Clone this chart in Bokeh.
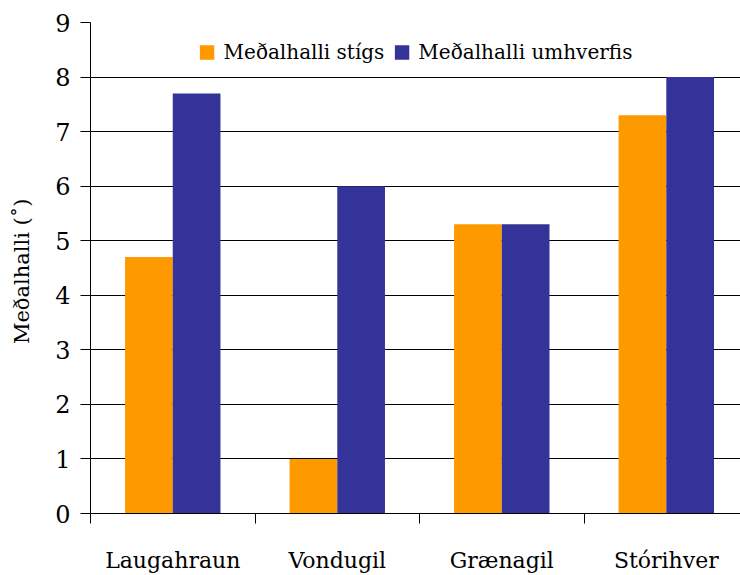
from bokeh.plotting import figure
from bokeh.models import (ColumnDataSource, Range1d, FixedTicker, Legend, LegendItem)
from bokeh.transform import dodge
from bokeh.embed import file_html
from bokeh.resources import INLINE

categories = ["Laugahraun", "Vondugil", "Grænagil", "Stórihver"]
stigs = [4.7, 1.0, 5.3, 7.3]
umhverfis = [7.7, 6.0, 5.3, 8.0]
series_names = ["Meðalhalli stígs", "Meðalhalli umhverfis"]
y_ticks = [0, 1, 2, 3, 4, 5, 6, 7, 8, 9]

FONT = "DejaVu Serif"
ORANGE = "#FF9900"
BLUE = "#333399"

centers = [i + 0.5 for i in range(len(categories))]
src = ColumnDataSource(dict(x=centers, stigs=stigs, umhverfis=umhverfis))

p = figure(width=740, height=575, output_backend="svg", toolbar_location=None,
           x_range=Range1d(0, 3.951), y_range=Range1d(0, 9),
           min_border_left=90, min_border_right=0, min_border_top=22,
           min_border_bottom=61)
p.outline_line_color = None
p.background_fill_color = "white"
p.border_fill_color = "white"

bw = 0.29
r1 = p.vbar(x=dodge("x", -bw / 2, range=p.x_range), top="stigs", width=bw,
            source=src, fill_color=ORANGE, line_color=None)
r2 = p.vbar(x=dodge("x", bw / 2, range=p.x_range), top="umhverfis", width=bw,
            source=src, fill_color=BLUE, line_color=None)

# x axis: category labels at centers, tick marks at boundaries (minor ticks)
p.xaxis.ticker = FixedTicker(ticks=centers, minor_ticks=[0, 1, 2, 3, 4])
p.xaxis.major_label_overrides = {c: n for c, n in zip(centers, categories)}
p.xaxis.major_tick_line_color = None
p.xaxis.major_tick_out = 0
p.xaxis.major_tick_in = 0
p.xaxis.minor_tick_out = 10
p.xaxis.minor_tick_in = 0
p.xaxis.minor_tick_line_color = "black"
p.xaxis.axis_line_color = "black"
p.xaxis.major_label_text_font = FONT
p.xaxis.major_label_text_font_size = "22px"
p.xaxis.major_label_text_color = "black"
p.xaxis.major_label_standoff = 24

p.yaxis.ticker = FixedTicker(ticks=y_ticks)
p.yaxis.minor_tick_line_color = None
p.yaxis.major_tick_out = 10
p.yaxis.major_tick_in = 0
p.yaxis.major_tick_line_color = "black"
p.yaxis.axis_line_color = "black"
p.yaxis.major_label_text_font = FONT
p.yaxis.major_label_text_font_size = "24px"
p.yaxis.major_label_text_color = "black"
p.yaxis.major_label_standoff = 10
p.yaxis.axis_label = "Meðalhalli  (˚)"
p.yaxis.axis_label_text_font = FONT
p.yaxis.axis_label_text_font_size = "21px"
p.yaxis.axis_label_text_font_style = "normal"
p.yaxis.axis_label_text_color = "black"
p.yaxis.axis_label_standoff = 18

p.xgrid.grid_line_color = None
p.ygrid.grid_line_color = "black"
p.ygrid.grid_line_width = 1

legend = Legend(items=[LegendItem(label=series_names[0], renderers=[r1]),
                       LegendItem(label=series_names[1], renderers=[r2])],
                orientation="horizontal", location="top_center")
legend.border_line_color = None
legend.background_fill_alpha = 0
legend.label_text_font = FONT
legend.label_text_font_size = "20px"
legend.label_text_color = "black"
legend.glyph_width = 18
legend.glyph_height = 18
legend.spacing = 8
legend.label_standoff = 8
legend.margin = 18
legend.padding = 0
p.add_layout(legend, "center")

open("out.html", "w").write(file_html(p, INLINE))
